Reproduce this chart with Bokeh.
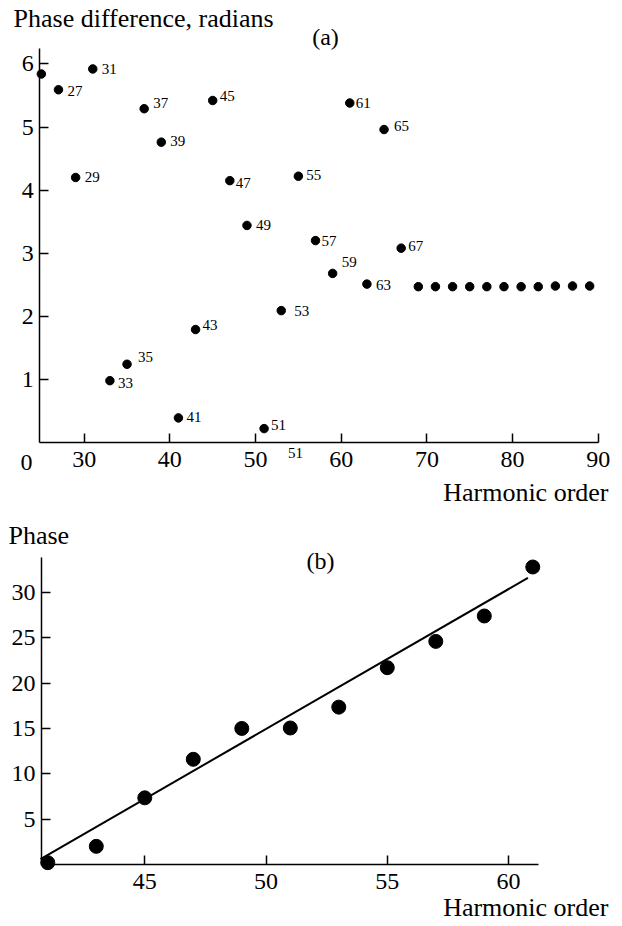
from bokeh.plotting import figure
from bokeh.models import Range1d, FixedTicker, ColumnDataSource, LabelSet, Label
from bokeh.layouts import column
from bokeh.embed import file_html
from bokeh.resources import INLINE

FONT = "'Liberation Serif', 'Times New Roman', serif"

# ---------------- panel (a) data ----------------
harm_a = [25, 27, 29, 31, 33, 35, 37, 39, 41, 43, 45, 47, 49, 51, 53, 55, 57,
          59, 61, 63, 65, 67, 69, 71, 73, 75, 77, 79, 81, 83, 85, 87, 89]
phase_a = [5.84, 5.59, 4.20, 5.92, 0.98, 1.24, 5.29, 4.76, 0.39, 1.79, 5.42,
           4.15, 3.44, 0.22, 2.09, 4.22, 3.20, 2.68, 5.38, 2.51, 4.96, 3.08,
           2.47, 2.47, 2.47, 2.47, 2.47, 2.47, 2.47, 2.47, 2.48, 2.48, 2.48]
labelled_harm = [27, 29, 31, 33, 35, 37, 39, 41, 43, 45, 47, 49, 51, 53, 55,
                 57, 59, 61, 63, 65, 67]
# label placement relative to the dot (pixels): right shift, upward shift
label_dx = [9, 9, 9, 8, 11, 9, 9, 8, 7, 7, 6, 9, 7, 13, 8, 6, 9, 6, 9, 10, 7]
label_dy = [-1, 0, 0, -2, 7, 6, 1, 1, 5, 4, -2, 0, 4, 0, 1, 0, 11, 0, -1, 4, 2]
x_ticks_a = [30, 40, 50, 60, 70, 80, 90]
y_ticks_a = [1, 2, 3, 4, 5, 6]

# ---------------- panel (b) data ----------------
harm_b = [41, 43, 45, 47, 49, 51, 53, 55, 57, 59, 61]
phase_b = [0.2, 2.0, 7.35, 11.6, 15.0, 15.05, 17.35, 21.7, 24.6, 27.4, 32.8]
fit_x = [40.7, 60.8]
fit_y = [0.6, 31.6]
x_ticks_b = [45, 50, 55, 60]
y_ticks_b = [5, 10, 15, 20, 25, 30]

W = 620
H1, H2 = 506, 418


def style(p, xt, yt, xb, yb):
    p.grid.visible = False
    p.outline_line_color = None
    p.background_fill_color = "white"
    p.min_border = 0
    p.xaxis.ticker = FixedTicker(ticks=xt)
    p.yaxis.ticker = FixedTicker(ticks=yt)
    p.xaxis.fixed_location = yb[0]
    p.yaxis.fixed_location = xb[0]
    p.xaxis.bounds = xb
    p.yaxis.bounds = yb
    for ax in (p.xaxis, p.yaxis):
        ax.axis_line_color = "black"
        ax.axis_line_width = 1.5
        ax.major_tick_line_color = "black"
        ax.major_tick_line_width = 1.5
        ax.major_tick_in = 9
        ax.major_tick_out = 0
        ax.minor_tick_line_color = None
        ax.major_label_text_font = FONT
        ax.major_label_text_font_size = "24px"
        ax.major_label_text_color = "black"
    p.xaxis.major_label_standoff = 9
    p.yaxis.major_label_standoff = 6


def lab(p, x, y, text, size, align="left"):
    p.add_layout(Label(x=x, y=y, text=text,
                       text_font=FONT, text_font_size=size, text_color="black",
                       text_align=align, text_baseline="middle"))


# ---------------- figure (a) ----------------
p1 = figure(width=W, height=H1, x_range=Range1d(20.23, 20.23 + W / 8.567),
            y_range=Range1d(442.0 / 63.1 - H1 / 63.1, 442.0 / 63.1),
            output_backend="svg", toolbar_location=None)
style(p1, x_ticks_a, y_ticks_a, (24.8, 90), (0, 6.24))
p1.scatter(harm_a, phase_a, size=8.5, color="black")

lookup = dict(zip(harm_a, phase_a))
src = ColumnDataSource(dict(
    x=labelled_harm,
    y=[lookup[h] for h in labelled_harm],
    t=[str(h) for h in labelled_harm],
    dx=label_dx, dy=label_dy))
p1.add_layout(LabelSet(x="x", y="y", text="t", x_offset="dx", y_offset="dy",
                       source=src, text_font=FONT, text_font_size="15px",
                       text_color="black", text_align="left",
                       text_baseline="middle"))

lab(p1, 21.75, 6.72, "Phase difference, radians", "26px", "left")
lab(p1, 58.17, 6.43, "(a)", "24px", "center")
lab(p1, 23.26, -0.317, "0", "24px", "center")
lab(p1, 54.67, -0.174, "51", "15px", "center")
lab(p1, 91.2, -0.79, "Harmonic order", "26px", "right")

# ---------------- figure (b) ----------------
p2 = figure(width=W, height=H2, x_range=Range1d(39.05, 39.05 + W / 24.25),
            y_range=Range1d(-60 / 9.07, -60 / 9.07 + H2 / 9.07),
            output_backend="svg", toolbar_location=None)
style(p2, x_ticks_b, y_ticks_b, (40.74, 61.23), (0, 33.9))
p2.line(fit_x, fit_y, line_width=2, color="black")
p2.scatter(harm_b, phase_b, size=14, color="black")

lab(p2, 39.38, 36.27, "Phase", "26px", "left")
lab(p2, 52.25, 33.41, "(b)", "24px", "center")
lab(p2, 64.12, -4.75, "Harmonic order", "26px", "right")

layout = column(p1, p2)
open("out.html", "w").write(file_html(layout, INLINE))
